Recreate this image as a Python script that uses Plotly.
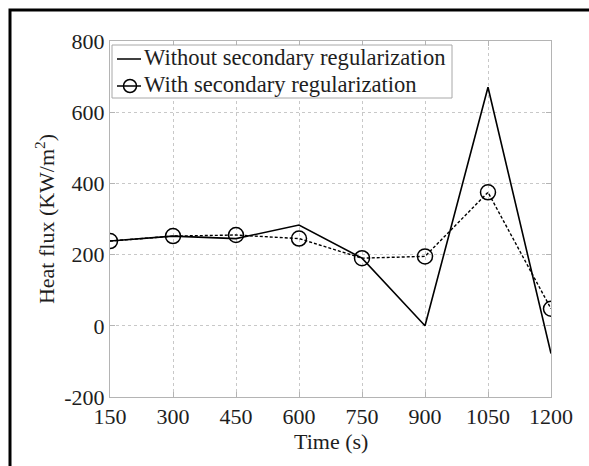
import plotly.graph_objects as go

time_s = [150, 300, 450, 600, 750, 900, 1050, 1200]
without_reg = [238, 252, 245, 283, 190, 0, 670, -78]
with_reg = [238, 252, 255, 245, 190, 195, 375, 48]
x_ticks = [150, 300, 450, 600, 750, 900, 1050, 1200]
y_ticks = [-200, 0, 200, 400, 600, 800]
series_names = ["Without secondary regularization", "With secondary regularization"]

FONT = "Liberation Serif"
TXT = "#1e1e1e"

fig = go.Figure()
fig.add_trace(go.Scatter(
    x=time_s, y=without_reg, mode="lines", name=series_names[0],
    line=dict(color="black", width=1.6),
))
fig.add_trace(go.Scatter(
    x=time_s, y=with_reg, mode="lines+markers", name=series_names[1],
    line=dict(color="black", width=1.4, dash="3px,2px"),
    marker=dict(symbol="circle-open", size=15, color="black", line=dict(width=1.5)),
))

W, H = 589, 466
L, R, T, B = 110, 38, 41, 69
pw, ph = W - L - R, H - T - B


def px(xp):
    return (xp - L) / pw


def py(yp):
    return (H - B - yp) / ph


axis_common = dict(
    showgrid=True, gridcolor="#c8c8c8", griddash="dot", gridwidth=1,
    showline=True, linecolor="#b4b4b4", linewidth=1, mirror="ticks",
    ticks="inside", ticklen=5, tickcolor="#b4b4b4",
    zeroline=False,
    tickfont=dict(family=FONT, size=22, color=TXT),
)

fig.update_layout(
    width=W, height=H,
    margin=dict(l=L, r=R, t=T, b=B),
    paper_bgcolor="white", plot_bgcolor="white",
    font=dict(family=FONT, size=22, color=TXT),
    showlegend=False,
    xaxis=dict(range=[150, 1200], tickvals=x_ticks,
               ticktext=[str(v) for v in x_ticks], **axis_common),
    yaxis=dict(
        range=[-200, 800], tickvals=y_ticks,
        ticktext=[str(v) for v in y_ticks],
        title=dict(text="Heat flux (KW/m<sup>2</sup>)", standoff=3,
                   font=dict(family=FONT, size=22, color=TXT)),
        **axis_common,
    ),
)

# x-axis title placed tight under the tick labels
fig.add_annotation(
    text="Time (s)", xref="paper", yref="paper", x=0.5, y=py(427),
    xanchor="center", yanchor="top", showarrow=False,
    font=dict(family=FONT, size=22, color=TXT),
)

# custom legend (MATLAB-style, compact)
fig.add_shape(type="rect", xref="paper", yref="paper",
              x0=px(112), x1=px(452), y0=py(98), y1=py(45),
              line=dict(color="#a8a8a8", width=1), fillcolor="white", layer="above")
rows = [59, 86]
for i, yrow in enumerate(rows):
    fig.add_shape(type="line", xref="paper", yref="paper",
                  x0=px(117), x1=px(141), y0=py(yrow), y1=py(yrow),
                  line=dict(color="black", width=1.5), layer="above")
    fig.add_annotation(
        text=series_names[i], xref="paper", yref="paper",
        x=px(142), y=py(yrow - 1), xanchor="left", yanchor="middle",
        showarrow=False, font=dict(family=FONT, size=22.6, color=TXT),
    )
fig.add_shape(type="circle", xref="paper", yref="paper",
              x0=px(123.5), x1=px(136.5), y0=py(rows[1] + 6.5), y1=py(rows[1] - 6.5),
              line=dict(color="black", width=1.5), fillcolor="rgba(0,0,0,0)", layer="above")

# outer black frame (only left and top edges fall inside the picture)
fig.add_shape(type="rect", xref="paper", yref="paper",
              x0=px(10), x1=px(600), y0=py(480), y1=py(10),
              line=dict(color="black", width=3), fillcolor="rgba(0,0,0,0)", layer="above")

fig.write_html("out.html")
